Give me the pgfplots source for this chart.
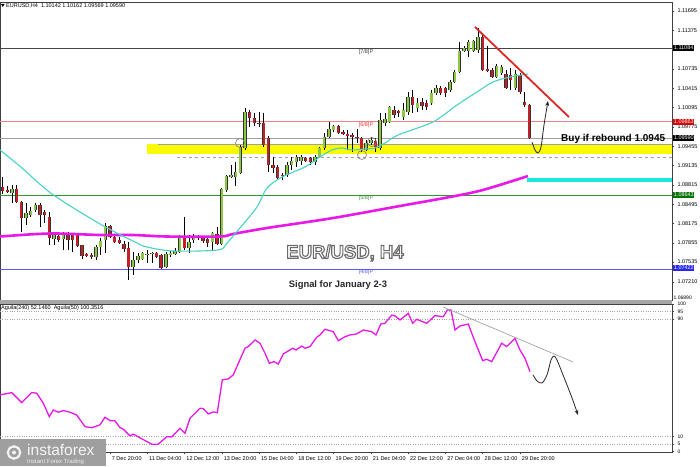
\documentclass[border=0pt]{standalone}
\usepackage{pgfplots}
\pgfplotsset{compat=1.18}
\usepackage{pgfplotstable}
\usepackage{fontspec}
\setmainfont{Liberation Sans}
\usetikzlibrary{arrows.meta}

\definecolor{bullgreen}{RGB}{140,200,64}
\definecolor{bearred}{RGB}{196,32,40}
\definecolor{matea}{RGB}{72,210,200}
\definecolor{mamag}{RGB}{232,24,232}
\definecolor{band}{RGB}{250,250,0}
\definecolor{cyanband}{RGB}{24,232,222}
\definecolor{trendred}{RGB}{222,40,40}
\definecolor{lvlred}{RGB}{240,130,130}
\definecolor{lvlgreen}{RGB}{50,150,50}
\definecolor{lvlblue}{RGB}{90,90,250}
\definecolor{lvlgray}{RGB}{70,70,70}
\definecolor{pricegray}{RGB}{160,160,160}

\newcommand{\tinyfont}{\fontsize{5.5}{6.5}\selectfont}
% outlined text: fill + stroke rendering mode
\newcommand{\outlined}[2]{\special{pdf:literal direct 2 Tr #1 w 0.42 0.42 0.42 RG}#2\special{pdf:literal direct 0 Tr}}

% bullish candles (EURUSD H4): bar O H L C
\pgfplotstableread{
i O H L C
2 1.08680 1.08812 1.08514 1.08746
5 1.08265 1.08514 1.08150 1.08348
6 1.08315 1.08448 1.08282 1.08381
7 1.08398 1.08514 1.08365 1.08481
11 1.07917 1.08017 1.07818 1.07984
13 1.07917 1.08034 1.07736 1.08001
20 1.07620 1.07818 1.07570 1.07785
21 1.07785 1.07934 1.07653 1.07884
22 1.07901 1.08183 1.07686 1.08134
28 1.07454 1.07703 1.07321 1.07570
29 1.07570 1.07686 1.07520 1.07637
30 1.07587 1.07703 1.07570 1.07686
31 1.07653 1.07736 1.07520 1.07670
32 1.07670 1.07703 1.07520 1.07686
35 1.07454 1.07703 1.07437 1.07670
36 1.07653 1.07719 1.07620 1.07686
37 1.07670 1.07769 1.07653 1.07719
38 1.07703 1.07984 1.07686 1.07951
40 1.07769 1.07984 1.07686 1.07868
41 1.07901 1.08001 1.07851 1.07967
42 1.07934 1.07984 1.07901 1.07951
45 1.07868 1.08034 1.07736 1.08017
47 1.07835 1.08763 1.07818 1.08746
48 1.08730 1.08978 1.08697 1.08961
49 1.08945 1.09144 1.08928 1.08978
50 1.08945 1.09194 1.08796 1.09028
51 1.09011 1.09475 1.08995 1.09442
52 1.09426 1.10088 1.09393 1.10022
61 1.08978 1.09194 1.08945 1.09144
62 1.09144 1.09277 1.09061 1.09210
63 1.09194 1.09310 1.09111 1.09277
64 1.09210 1.09310 1.09144 1.09277
67 1.09194 1.09310 1.09144 1.09277
68 1.09277 1.09442 1.09260 1.09426
69 1.09426 1.09674 1.09393 1.09608
70 1.09608 1.09857 1.09591 1.09740
71 1.09724 1.09807 1.09691 1.09790
78 1.09393 1.09558 1.09376 1.09508
79 1.09508 1.09608 1.09475 1.09558
81 1.09426 1.10005 1.09393 1.09890
82 1.09840 1.10005 1.09790 1.09906
83 1.09857 1.10121 1.09840 1.10105
86 1.09939 1.10171 1.09890 1.10055
87 1.10022 1.10354 1.09972 1.10271
89 1.10088 1.10254 1.10022 1.10171
92 1.10171 1.10387 1.10138 1.10337
93 1.10337 1.10470 1.10304 1.10420
96 1.10387 1.10552 1.10354 1.10519
97 1.10519 1.10718 1.10503 1.10685
98 1.10685 1.11182 1.10668 1.11033
99 1.11033 1.11116 1.11017 1.11082
100 1.11033 1.11215 1.10934 1.11182
101 1.11033 1.11215 1.11017 1.11199
102 1.11050 1.11414 1.11000 1.11265
106 1.10602 1.10818 1.10586 1.10785
107 1.10668 1.10801 1.10635 1.10768
110 1.10420 1.10718 1.10387 1.10652
}\bull

% bearish candles
\pgfplotstableread{
i O H L C
0 1.08779 1.08945 1.08664 1.08713
1 1.08730 1.08796 1.08680 1.08697
3 1.08746 1.08812 1.08514 1.08531
4 1.08531 1.08547 1.08034 1.08265
8 1.08481 1.08514 1.08117 1.08315
9 1.08365 1.08398 1.08183 1.08315
10 1.08282 1.08365 1.07818 1.07934
12 1.07967 1.08001 1.07868 1.07901
14 1.07984 1.08034 1.07736 1.07901
15 1.07984 1.08017 1.07703 1.07901
16 1.07984 1.08017 1.07785 1.07802
17 1.07818 1.07818 1.07587 1.07637
18 1.07670 1.07686 1.07620 1.07637
19 1.07653 1.07686 1.07587 1.07620
23 1.08134 1.08150 1.07934 1.07951
24 1.07951 1.07984 1.07851 1.07868
25 1.07901 1.07951 1.07835 1.07851
26 1.07835 1.07884 1.07703 1.07752
27 1.07769 1.07868 1.07238 1.07454
33 1.07686 1.07703 1.07603 1.07620
34 1.07653 1.07670 1.07421 1.07437
39 1.07951 1.08282 1.07736 1.07769
43 1.07951 1.07967 1.07851 1.07884
44 1.07917 1.07951 1.07785 1.07851
46 1.08001 1.08117 1.07818 1.07835
53 1.10022 1.10055 1.09774 1.09923
54 1.09923 1.10005 1.09790 1.09840
55 1.09840 1.10022 1.09774 1.09823
56 1.09840 1.10005 1.09442 1.09475
57 1.09591 1.09624 1.09028 1.09144
58 1.09144 1.09277 1.09011 1.09094
59 1.09111 1.09144 1.08895 1.08928
60 1.08978 1.09011 1.08895 1.08961
65 1.09260 1.09277 1.09194 1.09210
66 1.09260 1.09277 1.09144 1.09194
72 1.09790 1.09807 1.09657 1.09674
73 1.09691 1.09724 1.09641 1.09657
74 1.09657 1.09724 1.09393 1.09624
75 1.09641 1.09674 1.09360 1.09608
76 1.09608 1.09740 1.09508 1.09591
77 1.09591 1.09608 1.09360 1.09393
80 1.09541 1.09591 1.09360 1.09442
84 1.10055 1.10121 1.09923 1.09972
85 1.10038 1.10055 1.09939 1.10005
88 1.10271 1.10387 1.10005 1.10138
90 1.10188 1.10254 1.10055 1.10121
91 1.10171 1.10221 1.10055 1.10105
94 1.10420 1.10453 1.10304 1.10337
95 1.10420 1.10437 1.10271 1.10337
103 1.11265 1.11298 1.10702 1.10718
104 1.10735 1.11116 1.10685 1.10702
105 1.10718 1.10751 1.10586 1.10602
108 1.10652 1.10718 1.10404 1.10420
109 1.10635 1.10751 1.10387 1.10552
111 1.10635 1.10668 1.10321 1.10354
112 1.10188 1.10354 1.10105 1.10138
113 1.10142 1.10162 1.09569 1.09590
}\bear

% oscillator Aguila(240)
\pgfplotstableread{
b v
-0.58 38.3
1.93 39.9
4.08 33.1
6.22 39.9
7.30 39.5
8.71 32.7
10.0 23.6
10.86 28.1
11.93 26.6
13.0 27.7
14.44 26.6
15.88 24.7
17.66 16.8
19.10 16.1
20.88 18.0
21.95 23.2
23.03 20.9
24.1 20.7
25.17 16.1
25.88 15.1
27.32 10.5
28.03 11.7
31.97 4.9
33.39 4.9
35.19 10.0
36.27 9.8
38.05 15.7
39.12 12.3
40.19 22.5
42.34 29.3
43.05 29.0
44.12 25.4
45.19 26.8
46.05 26.3
47.12 48.5
48.41 49.2
49.48 51.9
51.99 70.0
52.70 71.1
54.14 75.6
55.21 73.4
56.29 66.6
57.21 59.8
58.22 60.9
59.14 59.3
60.21 66.1
62.23 70.0
62.94 68.8
64.16 71.5
64.87 70.0
65.94 71.1
67.38 77.4
68.09 79.0
69.16 82.9
70.94 81.2
72.02 75.1
73.45 77.8
74.53 79.0
75.97 79.7
77.38 82.4
79.18 81.2
80.11 79.0
81.12 86.4
82.04 86.9
83.48 92.5
84.19 91.9
85.26 89.2
87.04 93.7
87.98 86.9
88.84 89.6
90.99 86.9
92.77 92.1
94.55 91.4
95.41 95.9
96.20 95.9
97.06 82.4
98.13 85.1
99.91 86.4
101.35 74.4
103.00 61.6
103.86 62.5
104.94 60.9
107.08 73.4
108.15 71.1
109.93 76.7
111.00 68.8
112.08 63.2
113.15 54.1
}\aguila

\pgfplotsset{
  panel/.style={scale only axis, width=672pt, xmin=-0.58, xmax=143.63,
    axis line style={black!75, line width=0.6pt},
    tick align=outside, major tick length=2pt,
    tick style={black!75, line width=0.4pt},
    ticklabel style={font=\tinyfont},
    /pgf/number format/assume math mode=true,
    clip mode=individual,
    ytick pos=right, yticklabel pos=right},
  wick/.style={draw=none, forget plot, error bars/.cd, y dir=both, y explicit,
    error mark=none, error bar style={draw=black, line width=0.6pt}},
}

\begin{document}
\begin{tikzpicture}
\useasboundingbox (0pt,0pt) rectangle (700pt,466pt);
\fill[white] (0pt,0pt) rectangle (700pt,466pt);

% ---------------- price panel ----------------
\begin{axis}[panel, at={(0pt,166pt)}, anchor=south west, height=298pt,
  ymin=1.06907, ymax=1.11845, xtick=\empty,
  ytick={1.07210,1.07535,1.07855,1.08175,1.08495,1.08815,1.09135,1.09455,1.09775,1.10095,1.10415,1.10735,1.11375,1.11695},
  scaled y ticks=false,
  yticklabel style={/pgf/number format/.cd, fixed, fixed zerofill, precision=5}]

  % zones and levels
  \addplot[fill=band, draw=none, forget plot] coordinates {(31,1.09326) (143.63,1.09326) (143.63,1.09492) (31,1.09492)} -- cycle;
  \addplot[pricegray, line width=0.5pt, forget plot] coordinates {(33.3,1.09492) (143.63,1.09492)};
  \addplot[pricegray, line width=0.5pt, dashed, forget plot] coordinates {(37.4,1.09277) (143.63,1.09277)};
  \addplot[lvlgray, line width=0.6pt, forget plot] coordinates {(-0.58,1.11084) (143.63,1.11084)};
  \addplot[lvlred, line width=0.6pt, forget plot] coordinates {(-0.58,1.09863) (143.63,1.09863)};
  \addplot[pricegray, line width=0.5pt, forget plot] coordinates {(-0.58,1.09590) (143.63,1.09590)};
  \addplot[lvlgreen, line width=0.5pt, forget plot] coordinates {(-0.58,1.08643) (143.63,1.08643)};
  \addplot[lvlblue, line width=0.6pt, forget plot] coordinates {(-0.58,1.07422) (143.63,1.07422)};
  \addplot[cyanband, line width=4pt, forget plot] coordinates {(112.5,1.08895) (143.63,1.08895)};

  % candles: wicks then bodies
  \addplot[wick] table[x=i, y=O, y error plus expr=\thisrow{H}-\thisrow{O}, y error minus expr=\thisrow{O}-\thisrow{L}] {\bull};
  \addplot[wick] table[x=i, y=O, y error plus expr=\thisrow{H}-\thisrow{O}, y error minus expr=\thisrow{O}-\thisrow{L}] {\bear};
  \addplot[draw=none, forget plot, error bars/.cd, y dir=plus, y explicit, error mark=none,
    error bar style={draw=black!80, line width=3.4pt}]
    table[x=i, y=O, y error plus expr=\thisrow{C}-\thisrow{O}] {\bull};
  \addplot[draw=none, forget plot, error bars/.cd, y dir=plus, y explicit, error mark=none,
    error bar style={draw=bullgreen, line width=2.2pt}]
    table[x=i, y=O, y error plus expr=\thisrow{C}-\thisrow{O}] {\bull};
  \addplot[draw=none, forget plot, error bars/.cd, y dir=minus, y explicit, error mark=none,
    error bar style={draw=black!80, line width=3.4pt}]
    table[x=i, y=O, y error minus expr=\thisrow{O}-\thisrow{C}] {\bear};
  \addplot[draw=none, forget plot, error bars/.cd, y dir=minus, y explicit, error mark=none,
    error bar style={draw=bearred, line width=2.2pt}]
    table[x=i, y=O, y error minus expr=\thisrow{O}-\thisrow{C}] {\bear};

  % moving averages
  \addplot[mamag, line width=2.6pt, smooth] coordinates {
    (-0.58,1.07959) (10.15,1.08009) (20.88,1.07984) (27.96,1.07984) (35.26,1.07959)
    (46.63,1.07959) (49.42,1.08001) (56.72,1.08100) (70.88,1.08265) (85.26,1.08465)
    (95.99,1.08614) (103.07,1.08730) (112.72,1.08961)};
  \addplot[matea, line width=1.1pt, smooth] coordinates {
    (-0.58,1.09393) (4.14,1.09094) (10.58,1.08664) (20.88,1.08167) (28.39,1.07868)
    (30.97,1.07785) (36.55,1.07719) (46.2,1.07736) (48.13,1.07851) (50.92,1.08100)
    (54.57,1.08448) (56.72,1.08763) (59.94,1.08945) (64.87,1.09111) (68.09,1.09277)
    (70.67,1.09393) (72.81,1.09426) (74.96,1.09393) (77.75,1.09409) (79.89,1.09426)
    (82.04,1.09508) (84.83,1.09641) (92.34,1.09857) (97.49,1.10138) (101.78,1.10354)
    (105.21,1.10519) (108.86,1.10602) (112.72,1.10652)};

  % annotations
  \addplot[only marks, mark=o, mark size=4.5pt, gray, line width=0.6pt] coordinates {
    (50.92,1.09508) (77.1,1.09310) (79.25,1.09525)};
  \addplot[trendred, line width=1.8pt] coordinates {(101.35,1.11431) (121.52,1.09939)};
  \addplot[black!85, line width=0.8pt, smooth, -{Stealth[length=5pt,width=4pt]}] coordinates {
    (113.58,1.09525) (114.23,1.09393) (114.87,1.09343) (115.52,1.09442) (116.16,1.09807) (117.02,1.10204)};
\end{axis}

% separator between panels
\fill[gray!70] (0pt,162pt) rectangle (672pt,166pt);

% ---------------- oscillator panel ----------------
\begin{axis}[panel, at={(0pt,14pt)}, anchor=south west, height=148pt,
  ymin=-0.4, ymax=100,
  ytick={0,5,10,90,95,100},
  yticklabel style={font=\fontsize{5}{5}\selectfont},
  xtick={23,31,39,47,55,63,71,79,87,95,103,111},
  xticklabels={7 Dec 20:00, 11 Dec 04:00, 12 Dec 12:00, 13 Dec 20:00, 15 Dec 04:00, 18 Dec 12:00,
    19 Dec 20:00, 21 Dec 04:00, 22 Dec 12:00, 27 Dec 04:00, 28 Dec 12:00, 29 Dec 20:00},
  xtick pos=left,
  xticklabel style={anchor=north west, xshift=-1.5pt, yshift=0.5pt}]
  \addplot[gray!70, dotted, forget plot] coordinates {(-0.58,95) (143.63,95)};
  \addplot[gray!70, dotted, forget plot] coordinates {(-0.58,90) (143.63,90)};
  \addplot[gray!70, dotted, forget plot] coordinates {(-0.58,10) (143.63,10)};
  \addplot[gray!70, dotted, forget plot] coordinates {(-0.58,5) (143.63,5)};
  \addplot[mamag, line width=1.3pt] table[x=b, y=v] {\aguila};
  \addplot[gray!80, line width=0.6pt] coordinates {(94.49,98.0) (122.38,60.7)};
  \addplot[black!85, line width=0.8pt, smooth, -{Stealth[length=5pt,width=4pt]}] coordinates {
    (113.8,51.9) (114.66,47.8) (115.73,46.4) (116.8,51.9) (117.66,62.0) (118.3,64.7)
    (118.95,62.0) (120.24,51.9) (122.17,36.3) (123.45,24.7)};
\end{axis}

% header texts
\fill[black] (1pt,462pt) -- (4.6pt,462pt) -- (2.8pt,459pt) -- cycle;
\node[anchor=west, inner sep=0pt, font=\tinyfont] at (6pt,460.5pt) {EURUSD,H4\ \ 1.10142 1.10162 1.09569 1.09590};
\node[anchor=west, inner sep=0pt, font=\tinyfont] at (1pt,158pt) {Aguila(240) 52.1460\ \ Aguila(50) 100.3516};

% level labels
\node[font=\tinyfont, text=black!75] at (366pt,414pt) {[7/8]P};
\node[font=\tinyfont, text=red!80] at (366pt,341pt) {[6/8]P};
\node[font=\tinyfont, text=lvlgreen] at (366pt,268pt) {[5/8]P};
\node[font=\tinyfont, text=lvlblue] at (366pt,194pt) {[4/8]P};

% right price boxes
\node[anchor=west, inner sep=0.7pt, fill=black, text=white, font=\tinyfont] at (673pt,418pt) {1.11084};
\node[anchor=west, inner sep=0.7pt, fill=red!85!black, text=white, font=\tinyfont] at (673pt,344pt) {1.09863};
\node[anchor=west, inner sep=0.7pt, fill=black, text=white, font=\tinyfont] at (673pt,328pt) {1.09590};
\node[anchor=west, inner sep=0.7pt, fill=green!45!black, text=white, font=\tinyfont] at (673pt,271pt) {1.08643};
\node[anchor=west, inner sep=0.7pt, fill=blue!85, text=white, font=\tinyfont] at (673pt,198pt) {1.07422};
\node[anchor=west, inner sep=0.5pt, font=\fontsize{5}{5}\selectfont] at (673pt,168.5pt) {1.06890};

% signal texts
\node[anchor=west, inner sep=0pt, font=\bfseries\fontsize{10}{11}\selectfont] at (561pt,327pt) {Buy if rebound 1.0945};
\node[font=\bfseries\fontsize{18.5}{19}\selectfont, text=white] at (345pt,213pt) {\outlined{1.1}{EUR/USD, H4}};
\node[font=\bfseries\fontsize{9.4}{10}\selectfont, text=black!85] at (338pt,181pt) {Signal for January 2-3};

% logo
\fill[gray!75] (0pt,0pt) rectangle (106pt,27pt);
\draw[white!90!gray, line width=2pt] (14pt,13.5pt) circle (6pt);
\foreach \a in {0,45,...,315}
  \fill[white!90!gray] (14pt,13.5pt) ++(\a:6pt) circle (1.6pt);
\fill[white!90!gray] (14pt,13.5pt) circle (2pt);
\node[anchor=base west, inner sep=0pt, text=white!92!gray, font=\fontsize{15.5}{16}\selectfont] at (27pt,10.5pt) {instaforex};
\node[anchor=base west, inner sep=0pt, text=white!85!gray, font=\fontsize{6}{6}\selectfont] at (27pt,2.5pt) {Instant Forex Trading};
\end{tikzpicture}
\end{document}
